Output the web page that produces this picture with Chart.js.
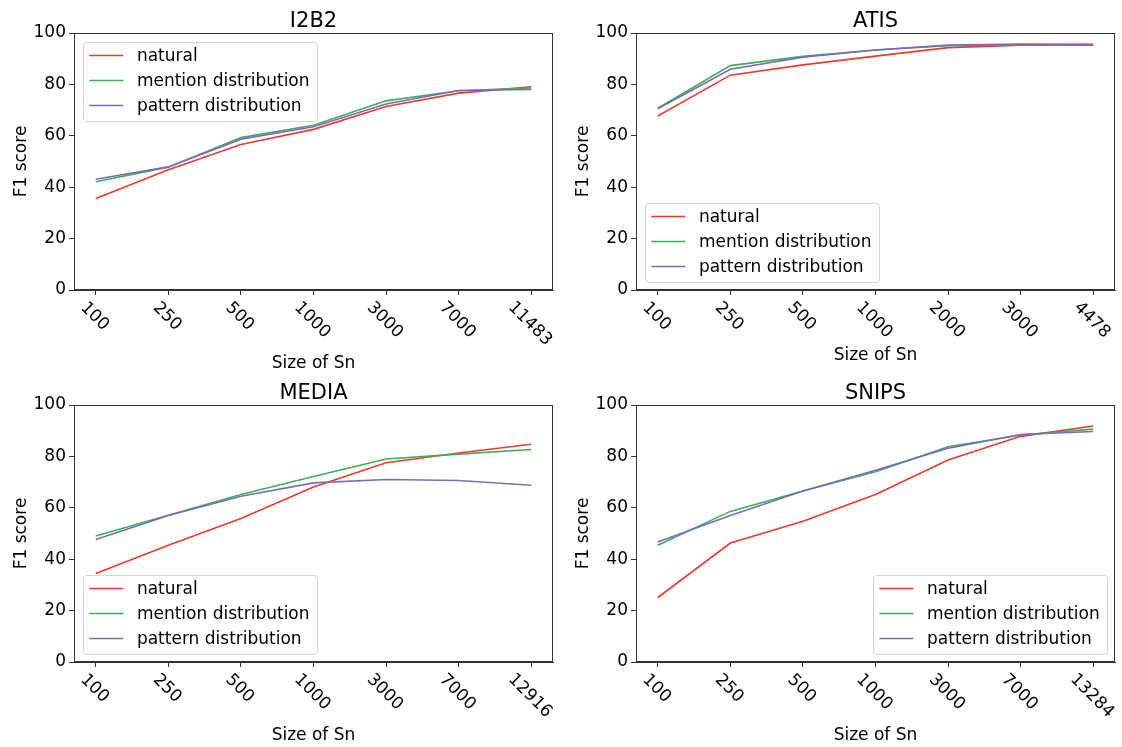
<!DOCTYPE html>
<html>
<head>
<meta charset="utf-8">
<script src="https://cdn.jsdelivr.net/npm/chart.js@4.4.0/dist/chart.umd.min.js"></script>
<style>
  html, body { margin: 0; padding: 0; background: #fff; }
  #wrap { position: relative; width: 1122px; height: 747px; }
  canvas { position: absolute; }
</style>
</head>
<body>
<div id="wrap">
  <canvas id="c0" width="561" height="374" style="left:0;top:0"></canvas>
  <canvas id="c1" width="561" height="374" style="left:561px;top:0"></canvas>
  <canvas id="c2" width="561" height="373" style="left:0;top:374px"></canvas>
  <canvas id="c3" width="561" height="373" style="left:561px;top:374px"></canvas>
</div>
<script>
// series names + colours
const seriesNames = ["natural", "mention distribution", "pattern distribution"];
const seriesColors = ["#ee3a2c", "#3fae5a", "#7a6cbc"];

// I2B2
const i2b2Sizes = ["100", "250", "500", "1000", "3000", "7000", "11483"];
const i2b2Natural = [35.6, 46.8, 56.6, 62.5, 71.4, 76.6, 79.1];
const i2b2Mention = [42.1, 47.8, 59.3, 64.1, 73.6, 77.5, 78.6];
const i2b2Pattern = [43.1, 47.9, 58.7, 63.5, 72.4, 77.6, 78.0];

// ATIS
const atisSizes = ["100", "250", "500", "1000", "2000", "3000", "4478"];
const atisNatural = [67.7, 83.6, 87.6, 91.0, 94.3, 95.3, 95.3];
const atisMention = [70.7, 87.3, 90.9, 93.4, 95.1, 95.4, 95.5];
const atisPattern = [70.5, 85.9, 90.6, 93.4, 95.3, 95.7, 95.6];

// MEDIA
const mediaSizes = ["100", "250", "500", "1000", "3000", "7000", "12916"];
const mediaNatural = [34.4, 45.4, 55.8, 68.1, 77.5, 81.3, 84.7];
const mediaMention = [49.0, 57.1, 65.2, 72.2, 79.0, 80.9, 82.7];
const mediaPattern = [47.7, 57.0, 64.5, 69.7, 71.0, 70.6, 68.8];

// SNIPS
const snipsSizes = ["100", "250", "500", "1000", "3000", "7000", "13284"];
const snipsNatural = [25.1, 46.3, 54.8, 65.2, 78.6, 87.8, 91.8];
const snipsMention = [45.4, 58.6, 66.5, 74.0, 83.7, 88.3, 90.6];
const snipsPattern = [46.7, 57.0, 66.5, 74.6, 83.2, 88.5, 89.7];

const FONT = '"DejaVu Sans", sans-serif';
const AXIS = "#333333";

// draws spines, title, rotated x tick labels, axis labels and legend
const decorPlugin = {
  id: "decor",
  afterDraw(chart, args, opts) {
    const ctx = chart.ctx;
    const ca = chart.chartArea;
    const xs = chart.scales.x;
    ctx.save();

    // full box
    ctx.strokeStyle = AXIS;
    ctx.lineWidth = 1;
    ctx.strokeRect(Math.round(ca.left) + 0.5, Math.round(ca.top) + 0.5,
      Math.round(ca.right - ca.left) - 1, Math.round(ca.bottom - ca.top) - 1);

    ctx.fillStyle = "#000";

    // title
    ctx.font = "21px " + FONT;
    ctx.textAlign = "center";
    ctx.textBaseline = "alphabetic";
    ctx.fillText(opts.title, (ca.left + ca.right) / 2, ca.top - 6);

    // x tick labels, rotated clockwise
    ctx.font = "17px " + FONT;
    const cap = 17 * 0.73;
    let maxBottom = ca.bottom;
    opts.sizes.forEach((lab, i) => {
      const x = xs.getPixelForValue(i);
      const w = ctx.measureText(lab).width * 0.95;
      const ext = (w + cap) * Math.SQRT1_2;
      const top = ca.bottom + 10;
      ctx.save();
      ctx.translate(x, top + ext / 2);
      ctx.rotate(Math.PI / 4);
      ctx.textAlign = "center";
      ctx.fillText(lab, 0, cap / 2);
      ctx.restore();
      maxBottom = Math.max(maxBottom, top + ext);
    });

    // x axis label
    ctx.textAlign = "center";
    ctx.fillText("Size of Sn", (ca.left + ca.right) / 2, maxBottom + 10 + cap);

    // y axis label
    ctx.save();
    ctx.translate(ca.left - 48, (ca.top + ca.bottom) / 2);
    ctx.rotate(-Math.PI / 2);
    ctx.fillText("F1 score", 0, 0);
    ctx.restore();

    // legend
    const fs = 17;
    ctx.font = fs + "px " + FONT;
    const labels = chart.data.datasets.map(d => d.label);
    const maxW = Math.max(...labels.map(l => ctx.measureText(l).width));
    const pad = 0.4 * fs, handle = 2 * fs, gap = 0.8 * fs;
    const bw = pad + handle + gap + maxW + pad;
    const bh = 79;
    const off = 0.5 * fs;
    const bx = opts.legend.includes("right") ? ca.right - off - bw : ca.left + off;
    const by = opts.legend.includes("upper") ? ca.top + off : ca.bottom - off - bh;
    ctx.beginPath();
    ctx.roundRect(Math.round(bx) + 0.5, Math.round(by) + 0.5, Math.round(bw), Math.round(bh), 3);
    ctx.fillStyle = "rgba(255,255,255,0.8)";
    ctx.fill();
    ctx.strokeStyle = "#d5d5d5";
    ctx.lineWidth = 1;
    ctx.stroke();
    chart.data.datasets.forEach((d, k) => {
      const ry = by + 14 + k * 25;
      ctx.strokeStyle = d.borderColor;
      ctx.lineWidth = 1.6;
      ctx.beginPath();
      ctx.moveTo(bx + pad, ry);
      ctx.lineTo(bx + pad + handle, ry);
      ctx.stroke();
      ctx.fillStyle = "#000";
      ctx.textAlign = "left";
      ctx.textBaseline = "middle";
      ctx.fillText(d.label, bx + pad + handle + gap, ry + 1);
    });

    ctx.restore();
  }
};

function makeChart(id, title, sizes, natural, mention, pattern, legend, box) {
  const canvas = document.getElementById(id);
  const W = canvas.width, H = canvas.height;
  const series = [natural, mention, pattern];
  return new Chart(canvas, {
    type: "line",
    data: {
      datasets: series.map((vals, k) => ({
        label: seriesNames[k],
        data: vals.map((v, i) => ({ x: i, y: v })),
        borderColor: seriesColors[k],
        backgroundColor: seriesColors[k],
        borderWidth: 1.6,
        pointRadius: 0,
        tension: 0,
        fill: false,
        order: 3 - k,
      })),
    },
    options: {
      responsive: false,
      animation: false,
      events: [],
      layout: { padding: { left: 0, top: box.top, right: W - box.right, bottom: 0 } },
      scales: {
        x: {
          type: "linear",
          min: -0.3,
          max: sizes.length - 1 + 0.3,
          afterBuildTicks: (s) => { s.ticks = sizes.map((_, i) => ({ value: i })); },
          afterFit: (s) => { s.height = H - box.bottom; },
          ticks: { display: false },
          grid: { drawOnChartArea: false, drawTicks: true, tickLength: 5, tickColor: AXIS, tickWidth: 1 },
          border: { display: true, color: AXIS, width: 1 },
        },
        y: {
          min: 0,
          max: 100,
          afterFit: (s) => { s.width = box.left; },
          ticks: { stepSize: 20, padding: 3, color: "#000", font: { family: FONT, size: 17 } },
          grid: { drawOnChartArea: false, drawTicks: true, tickLength: 5, tickColor: AXIS, tickWidth: 1 },
          border: { display: true, color: AXIS, width: 1 },
        },
      },
      plugins: {
        legend: { display: false },
        tooltip: { enabled: false },
        decor: { title, sizes, legend },
      },
    },
    plugins: [decorPlugin],
  });
}

makeChart("c0", "I2B2", i2b2Sizes, i2b2Natural, i2b2Mention, i2b2Pattern, "upper left",
  { left: 74, right: 553, top: 33, bottom: 290 });
makeChart("c1", "ATIS", atisSizes, atisNatural, atisMention, atisPattern, "lower left",
  { left: 75, right: 554, top: 33, bottom: 290 });
makeChart("c2", "MEDIA", mediaSizes, mediaNatural, mediaMention, mediaPattern, "lower left",
  { left: 74, right: 553, top: 31, bottom: 288 });
makeChart("c3", "SNIPS", snipsSizes, snipsNatural, snipsMention, snipsPattern, "lower right",
  { left: 75, right: 554, top: 31, bottom: 288 });
</script>
</body>
</html>
